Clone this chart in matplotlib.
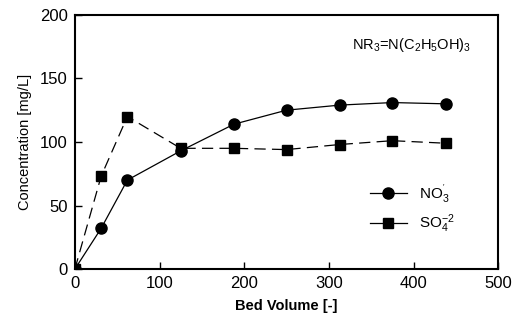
import matplotlib
matplotlib.use("Agg")
import matplotlib.pyplot as plt
from matplotlib.lines import Line2D

plt.rcParams["font.family"] = ["Liberation Sans", "DejaVu Sans"]
plt.rcParams["mathtext.fontset"] = "custom"
plt.rcParams["mathtext.rm"] = "Liberation Sans"
plt.rcParams["mathtext.it"] = "Liberation Sans"
plt.rcParams["mathtext.bf"] = "Liberation Sans:bold"

bed_volume = [0, 31, 62, 125, 188, 250, 313, 375, 438]
no3 = [0, 32, 70, 93, 114, 125, 129, 131, 130]
so4 = [0, 73, 120, 95, 95, 94, 98, 101, 99]

fig = plt.figure(figsize=(5.2, 3.23), dpi=100)
ax = fig.add_axes([0.144, 0.167, 0.814, 0.787])

ax.plot(bed_volume, no3, color="black", linewidth=0.9, marker="o", markersize=8)
ax.plot(bed_volume, so4, color="black", linewidth=0.9, marker="s", markersize=7,
        dashes=(9, 5))

ax.set_xlim(0, 500)
ax.set_ylim(0, 200)
ax.set_xticks([0, 100, 200, 300, 400, 500])
ax.set_yticks([0, 50, 100, 150, 200])
ax.tick_params(direction="in", labelsize=12, length=5, width=1, pad=5)
for side in ax.spines.values():
    side.set_linewidth(1.5)

ax.set_xlabel("Bed Volume [-]", fontsize=10.5, fontweight="bold", labelpad=6)
ax.set_ylabel("Concentration [mg/L]", fontsize=10.5, labelpad=6)

ax.text(0.935, 0.88, r"NR$_3$=N(C$_2$H$_5$OH)$_3$", transform=ax.transAxes,
        ha="right", va="center", fontsize=10.5)

leg_handles = [
    Line2D([], [], color="black", linewidth=0.9, marker="o", markersize=8),
    Line2D([], [], color="black", linewidth=0.9, marker="s", markersize=7),
]
ax.legend(leg_handles, [r"NO$_3^{\mathrm{'}}$", r"SO$_4^{-2}$"], loc="lower right",
          bbox_to_anchor=(0.93, 0.08), frameon=False, fontsize=11,
          handlelength=2.4, labelspacing=0.5)

fig.savefig("out.png", dpi=100)
